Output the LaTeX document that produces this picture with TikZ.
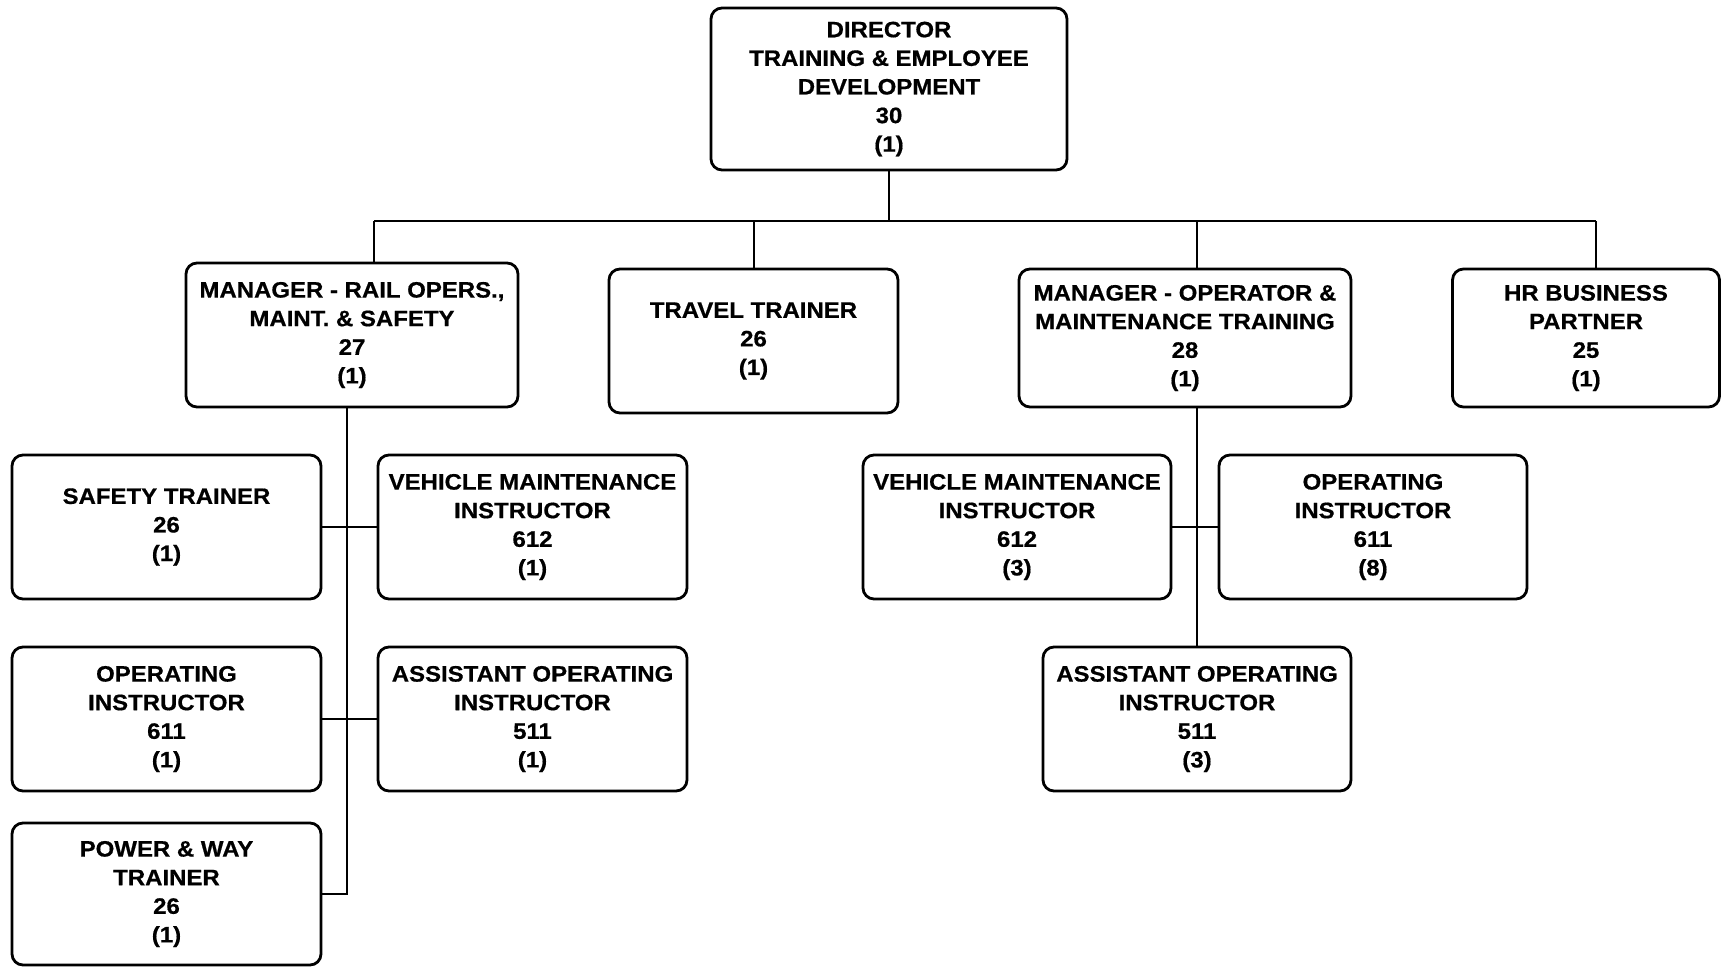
\documentclass[tikz,border=0pt]{standalone}
\usepackage{fontspec}
\setmainfont[FakeStretch=1.075, FakeBold=0.6]{Liberation Sans}
\begin{document}
\begin{tikzpicture}[x=1pt,y=-1pt,
  box/.style={draw=black, line width=2.8pt, rounded corners=11pt, fill=white,
    inner sep=0pt, align=center,
    font=\fontsize{22.3}{28.6}\selectfont\bfseries},
  conn/.style={draw=black, line width=1.8pt}]
\useasboundingbox (0,0) rectangle (1723,967);
% top
\node[box, minimum width=356pt, minimum height=162pt] (dir) at (889,89)
  {DIRECTOR\\TRAINING \& EMPLOYEE\\DEVELOPMENT\\30\\(1)};
% second row
\node[box, minimum width=332pt, minimum height=144pt] (mrail) at (352,335)
  {MANAGER - RAIL OPERS.,\\MAINT. \& SAFETY\\27\\(1)};
\node[box, minimum width=289pt, minimum height=144pt] (travel) at (753.5,341)
  {TRAVEL TRAINER\\26\\(1)};
\node[box, minimum width=332pt, minimum height=138pt] (mop) at (1185,338)
  {MANAGER - OPERATOR \&\\MAINTENANCE TRAINING\\28\\(1)};
\node[box, minimum width=267pt, minimum height=138pt] (hr) at (1586,338)
  {HR BUSINESS\\PARTNER\\25\\(1)};
% left subtree
\node[box, minimum width=309pt, minimum height=144pt] (safety) at (166.5,527)
  {SAFETY TRAINER\\26\\(1)};
\node[box, minimum width=309pt, minimum height=144pt] (vehl) at (532.5,527)
  {VEHICLE MAINTENANCE\\INSTRUCTOR\\612\\(1)};
\node[box, minimum width=309pt, minimum height=144pt] (opl) at (166.5,719)
  {OPERATING\\INSTRUCTOR\\611\\(1)};
\node[box, minimum width=309pt, minimum height=144pt] (asstl) at (532.5,719)
  {ASSISTANT OPERATING\\INSTRUCTOR\\511\\(1)};
\node[box, minimum width=309pt, minimum height=142pt] (pw) at (166.5,894)
  {POWER \& WAY\\TRAINER\\26\\(1)};
% right subtree
\node[box, minimum width=308pt, minimum height=144pt] (vehr) at (1017,527)
  {VEHICLE MAINTENANCE\\INSTRUCTOR\\612\\(3)};
\node[box, minimum width=308pt, minimum height=144pt] (opr) at (1373,527)
  {OPERATING\\INSTRUCTOR\\611\\(8)};
\node[box, minimum width=308pt, minimum height=144pt] (asstr) at (1197,719)
  {ASSISTANT OPERATING\\INSTRUCTOR\\511\\(3)};
% connector coordinates
\coordinate (bL) at (374,221);
\coordinate (bT) at (754,221);
\coordinate (bM) at (1197,221);
\coordinate (bR) at (1596,221);
\coordinate (tL) at (347,407);
\coordinate (tR) at (1197,407);
% top bus
\draw[conn] (dir.south) -- (dir.south |- bL);
\draw[conn] (bL) -- (bR);
\draw[conn] (bL) -- (bL |- mrail.north);
\draw[conn] (bT) -- (bT |- travel.north);
\draw[conn] (bM) -- (bM |- mop.north);
\draw[conn] (bR) -- (bR |- hr.north);
% left trunk
\draw[conn] (tL) -- (tL |- pw.east) -- (pw.east);
\draw[conn] (safety.east) -- (vehl.west);
\draw[conn] (opl.east) -- (asstl.west);
% right trunk
\draw[conn] (tR) -- (asstr.north);
\draw[conn] (vehr.east) -- (opr.west);
\end{tikzpicture}
\end{document}
